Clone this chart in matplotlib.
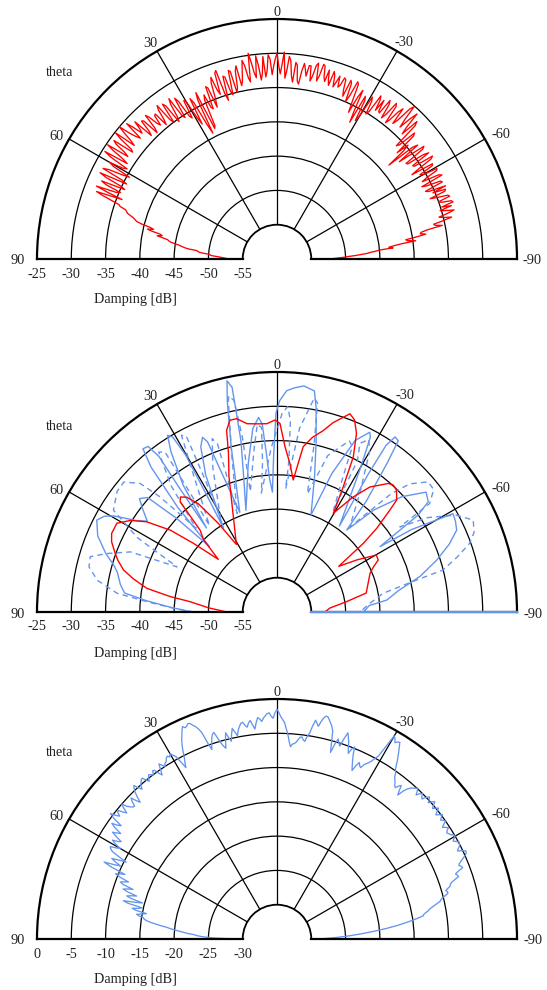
import numpy as np
import matplotlib.pyplot as plt
from matplotlib.transforms import offset_copy

plt.rcParams['font.family'] = ['Liberation Serif', 'DejaVu Serif']
plt.rcParams['font.size'] = 10.3

RED = '#ff0000'
BLUE = '#6495ed'

# ---------------- panel 1 : red, readings every 0.5 deg from 90 to -90 ----------------
# whole degrees 90, 89, ..., -90
p1_db_whole = [
    -53.0, -52.3, -51.6, -50.4, -50.0, -48.6, -48.2, -46.4, -45.6, -44.3,
    -43.8, -42.2, -42.6, -40.6, -40.9, -38.8, -38.2, -37.2, -36.8, -35.6,
    -33.0, -35.8, -31.6, -35.2, -32.0, -34.9, -31.3, -34.6, -32.2, -35.4,
    -31.8, -34.5, -30.4, -33.2, -30.2, -32.9, -30.6, -33.4, -30.1, -32.6,
    -30.0, -32.8, -30.5, -33.1, -31.2, -33.6, -32.0, -33.9, -32.2, -34.1,
    -32.4, -33.8, -31.6, -35.0, -32.4, -34.7, -31.8, -35.4, -32.9, -36.0,
    -33.4, -37.5, -34.2, -39.4, -33.0, -38.6, -33.8, -36.2, -33.1, -35.0,
    -31.8, -34.6, -31.1, -35.8, -32.4, -35.2, -31.8, -34.4, -31.2, -33.6,
    -30.6, -33.2, -29.7, -32.6, -30.2, -33.8, -30.4, -32.5, -30.8, -31.9,
    -30.0, -33.0, -29.8, -32.4, -31.0, -34.1, -31.6, -34.3, -31.2, -33.0,
    -31.4, -32.8, -30.8, -32.6, -31.0, -33.2, -32.8, -31.4, -33.6, -31.8,
    -33.0, -32.0, -34.4, -32.2, -33.9, -31.9, -36.2, -32.4, -37.4, -33.6,
    -36.0, -33.2, -34.6, -32.4, -32.1, -34.0, -32.2, -33.6, -31.8, -33.9,
    -31.4, -33.2, -30.1, -33.7, -30.6, -34.2, -32.0, -35.6, -33.2, -34.7,
    -38.7, -33.6, -35.2, -33.4, -36.4, -33.0, -35.8, -33.2, -36.8, -33.6,
    -35.4, -33.4, -36.0, -33.0, -35.6, -33.4, -35.8, -35.3, -33.6, -35.0,
    -33.2, -34.6, -33.0, -33.4, -34.4, -34.2, -35.0, -35.1, -36.4, -37.6,
    -38.8, -39.4, -40.8, -41.6, -43.6, -44.9, -46.4, -47.8, -49.6, -51.0,
    -52.3,
]
# half degrees 89.5, 88.5, ..., -89.5
p1_db_half = [
    -52.7, -52.0, -51.0, -50.2, -49.2, -48.4, -47.0, -46.0, -45.0, -44.0,
    -43.0, -42.9, -41.4, -41.5, -39.6, -38.5, -37.7, -37.0, -35.9, -34.4,
    -31.9, -33.4, -34.6, -32.8, -35.6, -32.4, -35.5, -31.4, -34.2, -32.6,
    -33.9, -31.6, -34.1, -31.4, -33.6, -31.2, -33.8, -31.3, -33.4, -31.2,
    -31.8, -33.4, -31.6, -32.4, -34.3, -31.8, -34.6, -31.6, -33.6, -32.5,
    -34.6, -32.2, -34.4, -31.9, -35.4, -32.6, -35.0, -32.2, -35.6, -33.2,
    -36.2, -33.4, -37.8, -34.1, -38.9, -34.6, -35.9, -32.8, -36.2, -32.6,
    -33.8, -31.4, -34.7, -32.2, -34.6, -31.6, -35.0, -31.9, -34.2, -32.2,
    -31.4, -33.9, -31.0, -33.4, -31.6, -32.8, -33.4, -30.2, -33.1, -30.8,
    -31.8, -31.6, -33.6, -30.4, -33.2, -31.2, -33.9, -32.4, -32.0, -31.4,
    -33.6, -31.2, -33.4, -30.8, -32.6, -31.4, -33.6, -32.0, -32.8, -33.4,
    -31.8, -33.6, -31.8, -35.0, -31.6, -34.4, -33.6, -35.6, -33.0, -36.8,
    -32.6, -35.2, -31.8, -34.0, -33.8, -31.6, -34.4, -31.4, -34.6, -32.2,
    -34.0, -30.8, -32.4, -31.8, -33.0, -31.4, -36.0, -32.8, -36.6, -35.8,
    -34.4, -37.2, -33.0, -36.6, -33.8, -36.0, -32.8, -35.4, -33.4, -35.8,
    -33.2, -35.2, -33.4, -36.4, -33.6, -36.2, -33.2, -33.4, -36.0, -33.4,
    -35.0, -33.2, -34.8, -35.2, -33.2, -35.6, -33.8, -36.6, -35.4, -38.6,
    -38.0, -41.0, -39.6, -42.8, -43.0, -45.6, -46.9, -48.6, -50.2, -51.8,
]

# ---------------- panel 2 : three traces ----------------
p2_red_theta = [90, 86.5, 83.2, 81.8, 79.7, 77, 74.7, 72, 70.1, 67, 64.6, 61, 58, 55.3, 52.5, 50.6, 48.1,
                45.5, 43.2, 41.3, 40, 38.2, 36, 33.5, 31,
                22.6, 19.5, 17, 15.5, 13.8, 11.8, 9, 6.2, 3.1, 0.6, -0.9, -2.8, -5, -7,
                -9, -11.5, -14.3, -16.5, -18.8, -20.2, -22, -24, -26.2, -27.9, -29.7,
                -33.5, -36.6, -40.9, -42.5, -44.4, -46.9, -47.9, -50, -51.5, -53.5,
                -57, -60.2, -62.8, -65, -67.4, -72, -78, -81.6, -85.8, -90]
p2_red_db = [-52.7, -50, -47.2, -44.3, -40.7, -38.5, -36.8, -35.6, -34.9, -33.8, -33.3, -33.3, -34.8, -36.9, -40.4, -44.2, -48.5,
             -45, -43.6, -38.6, -38.1, -38.7, -40.5, -44.5, -48.5,
             -42.9, -39, -35.8, -32.5, -31.2, -31.2, -32.2, -32.4, -32.5, -32, -32.5, -35.9, -38.3, -40.6,
             -35.6, -34, -32.7, -31.2, -30, -29.2, -29.8, -31.5, -34.8, -39.4, -43.4,
             -39.9, -37.3, -35.2, -34.9, -35.1, -36.1, -37.8, -41, -43.9, -48.8,
             -46, -43.3, -43.4, -44.5, -45.3, -46, -46.7, -49.8, -52.3, -53]

p2_solid_theta = [90, 87.5, 85, 82.9, 80, 76, 73.9, 71.1, 67, 63, 61, 59.5, 57, 55, 52.5, 50.5, 48.5, 47, 45.9,
                  43.5, 41, 39.4, 37.9, 37.2, 38.2, 40,
                  36.5, 33.5, 31.8, 30.8, 30.2, 31, 32.5,
                  27.5, 24.8, 23.1, 22.2, 21.4, 20.5,
                  15.5, 13.3, 12.2, 11.3, 11.5, 11.9, 14, 17,
                  11, 7.5, 5.4, 4.5, 3.8, 3.2, 2.2,
                  1.2, 0.3, -0.7, -2.5, -4.5, -6.8, -9.6, -10.8, -12.9, -15.5, -19.3,
                  -21.6, -24.5, -27.3, -28.1, -30, -33, -36,
                  -33.5, -33.2, -34, -35.3, -36.5, -38.8, -40.4,
                  -43.5, -47.3, -51.2, -53.9, -55.5, -57.6,
                  -58.5, -60.8, -63, -65.5, -68.5, -72, -76, -80, -83.8, -86, -90]
p2_solid_db = [-47.6, -44.5, -40.8, -37.6, -36.8, -36.0, -35.2, -33.6, -31.6, -30.5, -31.2, -32.4, -35.5, -36.9, -35.3, -34.0, -34.8, -40, -46.3,
               -39, -32, -29.2, -29.4, -31.5, -37, -44,
               -37, -32, -29.7, -30.3, -33.5, -40, -45.5,
               -37.5, -33.5, -32.3, -33.2, -40, -44.5,
               -35, -28.5, -25.5, -26.6, -30, -34.5, -40, -44.5,
               -38, -33, -31.5, -32.5, -37, -40.5, -42.5,
               -37, -31, -29.2, -27.7, -27.2, -26.8, -27.3, -29.6, -34.4, -39.5, -45,
               -38.3, -32.5, -30.5, -31.1, -35.5, -41, -44.5,
               -36, -31, -29.2, -29.4, -33, -39.1, -44.3,
               -39.5, -35.2, -32.1, -32.7, -35, -42.2,
               -37, -30.6, -30.8, -31.2, -33, -35.5, -38.5, -42, -43.9, -46.5, -47.4]

p2_dash_theta = [90, 88, 85.5, 83.3, 80, 76.5, 73.5, 71, 67.7, 65.7,
                 62, 58.1, 53, 49.7, 46.8, 45.5, 44,
                 40, 36.5, 35, 36, 38,
                 31, 28.4, 27.3, 28.5, 31,
                 24, 20.5, 19.5, 20.5, 22,
                 16, 13, 12.6, 11.5, 11.2, 12.5,
                 8, 6, 4.8, 5.5, 7.5,
                 2, -1.5, -3, -4, -4.5, -4,
                 -7, -9.9, -11, -12.5, -14.4,
                 -18, -22.9, -24.5, -26, -29,
                 -28, -26.2, -28, -30, -35, -40.6,
                 -44, -46, -49.3, -52, -54.6, -55.3,
                 -58, -61.6, -64.9, -68, -70.4, -73, -75.8, -77.1, -80, -85, -90]
p2_dash_db = [-47.9, -45, -41, -36.5, -33.4, -31.8, -31.6, -33.8, -36.9, -44,
              -37, -31.9, -30.8, -30.7, -32.6, -36, -43,
              -36, -31, -31.5, -38, -44,
              -36, -30.7, -31.2, -38, -44,
              -37, -33, -34, -40, -44.5,
              -36, -28.5, -27.7, -28.5, -34, -42,
              -36, -32.5, -33, -38, -42.5,
              -36, -31, -30, -32, -38, -42,
              -33, -28.3, -29, -35, -42.2,
              -36, -32.9, -33.5, -38, -43,
              -35, -32.6, -31.5, -33, -39, -43.7,
              -36, -33.1, -30.9, -31, -32.7, -38.2,
              -34, -30.3, -28.4, -29, -30.2, -32.5, -35, -39.1, -44.3, -46.5, -47.9]

# ---------------- panel 3 : blue, readings every 0.5 deg from 90 to -90 ----------------
p3_db_whole = [
    -30.0, -25.6, -23.8, -22.9, -21.4, -20.1, -18.9, -17.2, -15.8, -15.3,
    -14.2, -15.6, -13.4, -14.8, -11.9, -14.7, -12.2, -13.6, -11.4, -12.8,
    -10.7, -11.8, -9.6, -10.9, -7.4, -9.8, -8.2, -10.3, -7.8, -7.2,
    -8.6, -7.0, -8.2, -6.4, -7.5, -5.6, -6.9, -4.6, -5.9, -5.2,
    -6.4, -5.0, -6.2, -6.6, -5.4, -6.8, -5.2, -4.4, -5.6, -4.8,
    -4.4, -5.4, -4.6, -5.1, -4.6, -5.8, -4.2, -5.0, -4.5, -3.9,
    -3.8, -4.6, -6.7, -5.2, -3.4, -2.2, -1.1, -1.3, -1.1, -1.8,
    -3.0, -5.8, -4.2, -3.5, -5.2, -6.2, -4.0, -5.4, -3.6, -4.8,
    -3.5, -3.0, -3.8, -2.9, -4.2, -2.6, -3.2, -2.4, -2.0, -2.8,
    -1.5, -2.6, -3.4, -5.0, -6.9, -6.4, -5.8, -5.3, -5.9, -4.6,
    -2.6, -3.4, -2.0, -1.8, -2.6, -3.6, -6.7, -4.5, -5.4, -3.2,
    -4.4, -6.0, -4.8, -6.8, -8.1, -6.6, -7.2, -6.3, -5.6, -4.5,
    -0.8, -1.6, -1.2, -2.4, -3.6, -4.9, -5.8, -6.4, -7.0, -6.2,
    -7.6, -6.0, -5.4, -4.9, -5.8, -5.0, -5.6, -4.6, -5.3, -4.5,
    -5.4, -4.7, -5.6, -4.8, -5.5, -5.0, -5.9, -5.2, -5.8, -5.5,
    -5.0, -5.6, -4.9, -5.1, -5.7, -4.6, -4.9, -5.8, -6.4, -6.0,
    -7.3, -7.0, -8.2, -8.6, -9.4, -9.2, -10.1, -10.6, -11.6, -12.4,
    -13.0, -13.4, -14.9, -16.4, -18.2, -20.0, -21.8, -23.6, -25.4, -27.2,
    -29.0,
]
p3_db_half = [
    -27.5, -24.6, -23.2, -22.0, -20.8, -19.4, -18.0, -16.4, -15.4, -14.6,
    -15.0, -14.0, -14.4, -12.6, -13.6, -13.0, -12.8, -12.2, -12.0, -11.2,
    -11.2, -10.4, -10.2, -8.6, -8.8, -8.9, -9.2, -9.0, -7.4, -8.0,
    -7.6, -7.8, -7.2, -7.0, -6.3, -6.4, -5.4, -5.4, -5.3, -5.9,
    -5.6, -5.8, -6.5, -5.9, -6.2, -5.9, -4.7, -5.1, -5.0, -4.5,
    -4.9, -4.9, -4.8, -4.5, -5.3, -5.0, -4.6, -4.6, -4.1, -4.2,
    -4.2, -5.6, -5.9, -4.2, -2.7, -1.6, -1.4, -1.0, -1.5, -2.3,
    -4.6, -5.0, -3.7, -4.4, -5.8, -5.0, -4.8, -4.4, -4.2, -4.0,
    -3.1, -3.5, -3.2, -3.6, -3.3, -2.8, -2.7, -2.1, -2.5, -2.0,
    -2.0, -3.0, -4.3, -6.1, -6.5, -6.2, -5.4, -5.7, -5.1, -3.5,
    -3.0, -2.6, -1.7, -2.2, -3.0, -5.2, -5.4, -5.0, -4.2, -3.8,
    -5.3, -5.2, -6.0, -7.5, -7.2, -7.0, -6.6, -6.0, -5.0, -2.8,
    -1.1, -1.3, -1.8, -3.0, -4.3, -5.2, -6.1, -6.8, -6.5, -7.0,
    -6.6, -5.6, -5.2, -5.3, -5.3, -5.4, -5.0, -4.9, -4.8, -5.0,
    -5.0, -5.2, -5.2, -5.2, -5.2, -5.5, -5.5, -5.6, -5.6, -5.1,
    -5.4, -5.2, -5.0, -5.5, -5.1, -4.7, -5.4, -6.2, -6.1, -6.8,
    -7.1, -7.6, -8.5, -9.0, -9.2, -9.6, -10.4, -11.1, -12.0, -12.6,
    -13.3, -14.1, -15.6, -17.2, -19.0, -20.9, -22.7, -24.5, -26.3, -28.1,
]


def merge_half_steps(whole, half):
    # 90, 89.5, 89, ... -90
    theta, db = [], []
    for i, v in enumerate(whole):
        theta.append(90 - i)
        db.append(v)
        if i < len(half):
            theta.append(89.5 - i)
            db.append(half[i])
    return theta, db


p1_theta, p1_db = merge_half_steps(p1_db_whole, p1_db_half)
p3_theta, p3_db = merge_half_steps(p3_db_whole, p3_db_half)

angle_ticks = [-90, -60, -30, 0, 30, 60, 90]
# where each angle label sits next to the outer arc: (ha, dx px, dy px)
angle_label_pos = {90: ('right', -12, -2), 60: ('right', -6, 2), 30: ('right', 0, 8),
                   0: ('center', 0, 7), -30: ('left', -2, 9), -60: ('left', 7, 4),
                   -90: ('left', 6, -2)}

fig = plt.figure(figsize=(5.47, 9.9), dpi=100)


def half_polar(base_y, rmin, rmax):
    # base_y = pixel row of the baseline, counted from the top.
    # the half disc is drawn centred in a square box, so the box runs
    # 360 px above the baseline and 120 px below it
    ax = fig.add_axes([37 / 547, (990 - base_y - 120) / 990, 480 / 547, 480 / 990], projection='polar')
    ax.set_thetamin(-90)
    ax.set_thetamax(90)
    ax.set_theta_zero_location('N')
    ax.set_theta_direction(1)
    ax.set_ylim(rmin, rmax)
    ax.set_rorigin(rmin - 5)
    ax.set_yticks(np.arange(rmin + 5, rmax, 5))
    ax.set_yticklabels([])
    ax.set_xticks(np.deg2rad(angle_ticks))
    ax.set_xticklabels([])
    ax.grid(True, color='black', lw=0.9)
    for s in ['polar', 'start', 'end']:
        ax.spines[s].set_linewidth(1.6)
    ax.spines['inner'].set_linewidth(1.3)
    for a in angle_ticks:
        ha, dx, dy = angle_label_pos[a]
        tr = offset_copy(ax.transData, fig=fig, x=dx, y=dy, units='dots')
        ax.text(np.deg2rad(a), rmax, str(a), transform=tr, ha=ha, va='center', color='#222222')
    # radial scale written under the left half of the baseline
    tr = offset_copy(ax.transData, fig=fig, y=-15, units='dots')
    for r in range(rmax, rmin - 1, -5):
        ax.text(np.pi / 2, r, str(r), transform=tr, ha='center', va='center', color='#222222')
    fig.text(60 / 547, 1 - (base_y - 186) / 990, 'theta', ha='center', va='center', color='#222222')
    fig.text(135 / 547, 1 - (base_y + 41) / 990, 'Damping [dB]', ha='center', va='center', color='#222222')
    return ax


ax1 = half_polar(259, -55, -25)
ax1.plot(np.deg2rad(p1_theta), p1_db, color=RED, lw=0.95)

ax2 = half_polar(612, -55, -25)
ax2.plot(np.deg2rad(p2_dash_theta), p2_dash_db, color=BLUE, lw=1.0, dashes=(4, 3))
ax2.plot(np.deg2rad(p2_solid_theta), p2_solid_db, color=BLUE, lw=1.0)
ax2.plot(np.deg2rad(p2_red_theta), p2_red_db, color=RED, lw=1.0)
ax2.plot(np.deg2rad([-90, -90]), [-55, -25], color=BLUE, lw=1.6, zorder=3, clip_on=False)

ax3 = half_polar(939, -30, 0)
ax3.plot(np.deg2rad(p3_theta), p3_db, color=BLUE, lw=0.95)

fig.savefig('out.png', dpi=100)
